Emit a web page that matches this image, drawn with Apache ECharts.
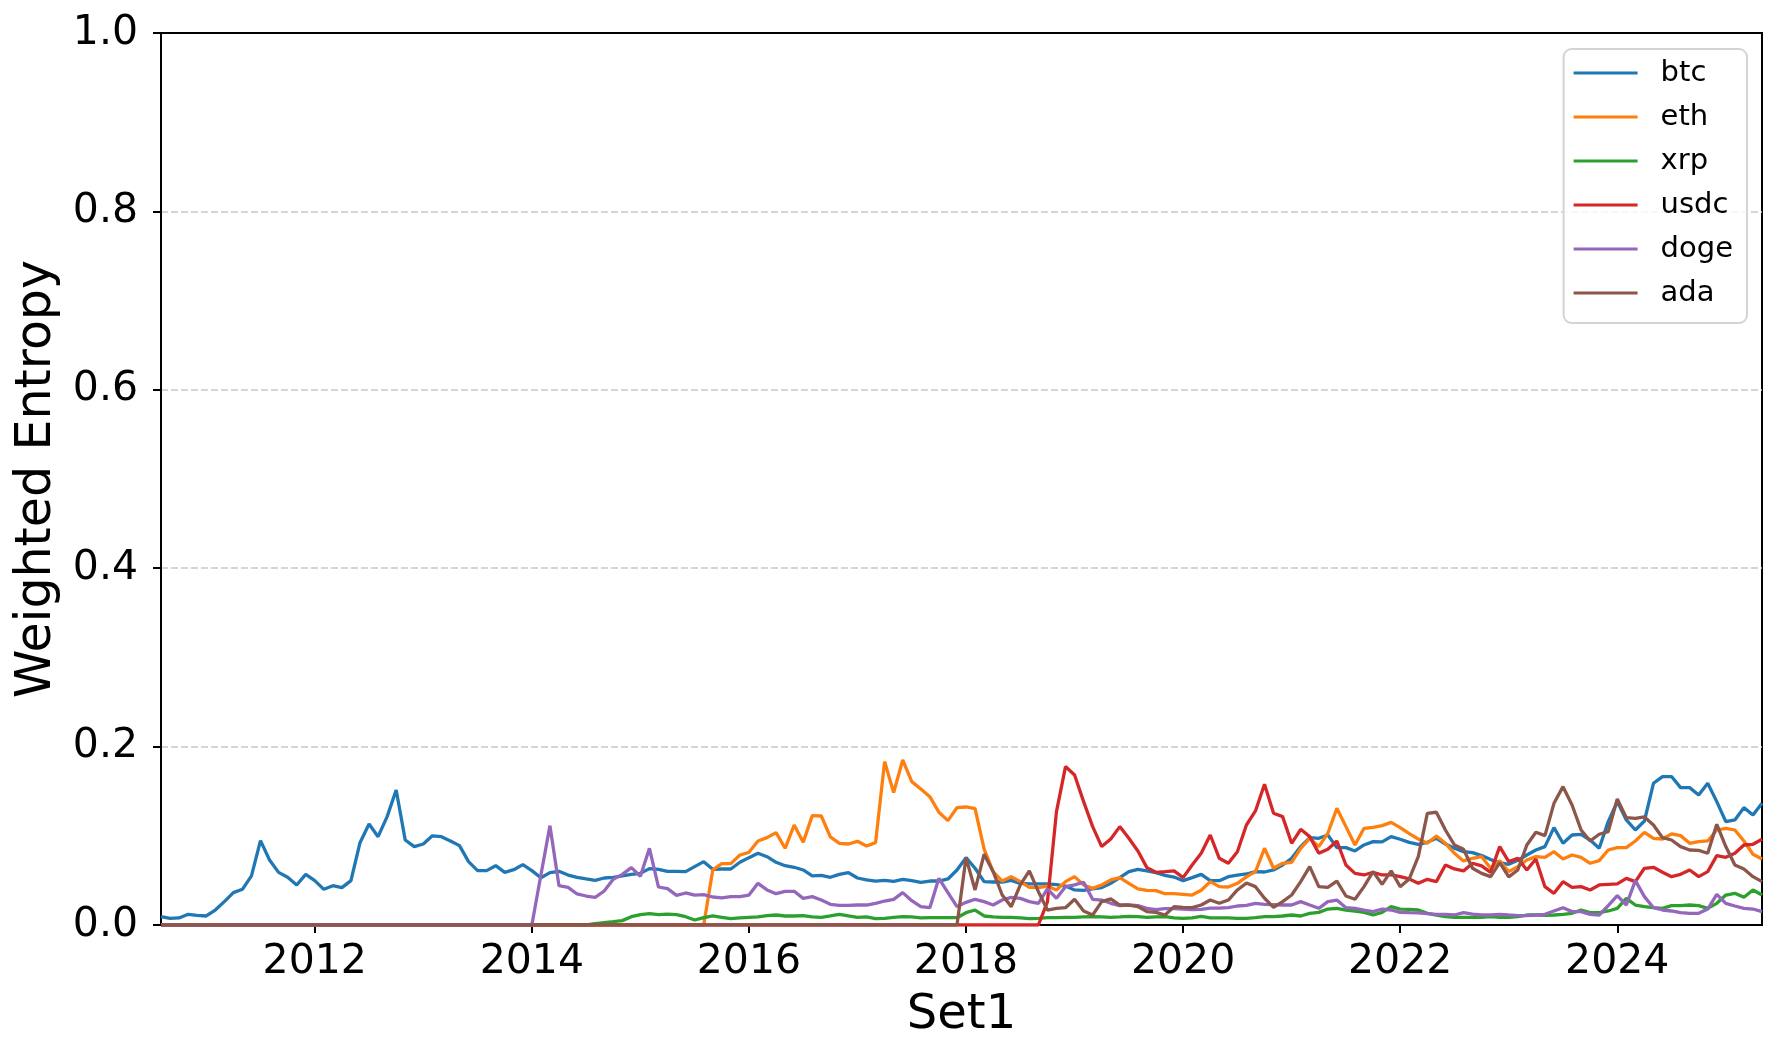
<!DOCTYPE html>
<html>
<head>
<meta charset="utf-8">
<script src="https://cdn.jsdelivr.net/npm/echarts@6/dist/echarts.min.js"></script>
<style>
html,body{margin:0;padding:0;background:#fff;}
#chart{width:1781px;height:1060px;}
</style>
</head>
<body>
<div id="chart"></div>
<script>
// Monthly observations, 2010-08 .. 2025-05 (178 months)
const startYear = 2010, startMonth = 8, nMonths = 178;
const months = [];
for (let k = 0; k < nMonths; k++) {
  const m = startMonth - 1 + k;
  months.push((startYear + Math.floor(m / 12)) + '-' + String(m % 12 + 1).padStart(2, '0'));
}

const seriesNames = ['btc', 'eth', 'xrp', 'usdc', 'doge', 'ada'];
const seriesColors = ['#1f77b4', '#ff7f0e', '#2ca02c', '#d62728', '#9467bd', '#8c564b'];
const yTicks = [0, 0.2, 0.4, 0.6, 0.8, 1.0];

const btc = [
0.0093,0.0075,0.0079,0.0120,0.0108,0.0101,0.0168,0.0262,0.0363,0.0400,
0.0550,0.0946,0.0729,0.0590,0.0535,0.0449,0.0568,0.0497,0.0400,0.0441,
0.0419,0.0497,0.0923,0.1133,0.0990,0.1215,0.1514,0.0953,0.0879,0.0908,
0.1000,0.0990,0.0942,0.0890,0.0710,0.0610,0.0610,0.0665,0.0590,0.0620,
0.0677,0.0610,0.0530,0.0587,0.0602,0.0560,0.0535,0.0516,0.0500,0.0527,
0.0535,0.0550,0.0568,0.0580,0.0632,0.0624,0.0602,0.0602,0.0598,0.0654,
0.0710,0.0624,0.0628,0.0628,0.0703,0.0755,0.0804,0.0766,0.0703,0.0665,
0.0647,0.0617,0.0550,0.0557,0.0535,0.0568,0.0587,0.0527,0.0505,0.0493,
0.0501,0.0490,0.0512,0.0497,0.0479,0.0493,0.0493,0.0516,0.0617,0.0755,
0.0636,0.0486,0.0482,0.0482,0.0501,0.0467,0.0460,0.0460,0.0460,0.0452,
0.0437,0.0393,0.0389,0.0404,0.0419,0.0467,0.0531,0.0598,0.0624,0.0606,
0.0587,0.0557,0.0538,0.0497,0.0531,0.0568,0.0497,0.0497,0.0542,0.0560,
0.0572,0.0598,0.0594,0.0617,0.0673,0.0748,0.0879,0.0979,0.0972,0.1009,
0.0867,0.0867,0.0830,0.0897,0.0935,0.0931,0.0991,0.0961,0.0927,0.0905,
0.0927,0.0972,0.0908,0.0860,0.0822,0.0811,0.0778,0.0733,0.0700,0.0680,
0.0725,0.0785,0.0841,0.0879,0.1092,0.0916,0.1009,0.1017,0.0953,0.0860,
0.1159,0.1383,0.1178,0.1065,0.1166,0.1589,0.1664,0.1664,0.1540,0.1540,
0.1458,0.1589,0.1383,0.1159,0.1178,0.1316,0.1234,0.1364
];

const eth = [
0,0,0,0,0,0,0,0,0,0,
0,0,0,0,0,0,0,0,0,0,
0,0,0,0,0,0,0,0,0,0,
0,0,0,0,0,0,0,0,0,0,
0,0,0,0,0,0,0,0,0,0,
0,0,0,0,0,0,0,0,0,0,
0,0.0617,0.0688,0.0688,0.0785,0.0815,0.0942,0.0980,0.1036,0.0860,
0.1121,0.0927,0.1226,0.1222,0.0987,0.0916,0.0908,0.0938,0.0886,0.0923,
0.1832,0.1484,0.1850,0.1607,0.1525,0.1439,0.1264,0.1170,0.1316,0.1323,
0.1305,0.0850,0.0598,0.0493,0.0542,0.0486,0.0422,0.0419,0.0437,0.0393,
0.0486,0.0542,0.0449,0.0411,0.0449,0.0505,0.0531,0.0467,0.0404,0.0389,
0.0385,0.0351,0.0351,0.0344,0.0336,0.0389,0.0486,0.0430,0.0426,0.0467,
0.0540,0.0598,0.0860,0.0636,0.0692,0.0703,0.0860,0.0972,0.0879,0.1028,
0.1308,0.1103,0.0897,0.1084,0.1095,0.1114,0.1151,0.1092,0.1024,0.0964,
0.0916,0.0998,0.0916,0.0804,0.0718,0.0748,0.0766,0.0636,0.0720,0.0598,
0.0654,0.0729,0.0766,0.0759,0.0822,0.0740,0.0785,0.0759,0.0692,0.0721,
0.0841,0.0867,0.0867,0.0942,0.1039,0.0972,0.0964,0.1021,0.1002,0.0916,
0.0935,0.0942,0.1065,0.1084,0.1065,0.0942,0.0793,0.0740
];

const xrp = [
0,0,0,0,0,0,0,0,0,0,
0,0,0,0,0,0,0,0,0,0,
0,0,0,0,0,0,0,0,0,0,
0,0,0,0,0,0,0,0,0,0,
0,0,0,0,0,0,0,0,0.0015,0.0026,
0.0037,0.0049,0.0093,0.0116,0.0127,0.0116,0.0123,0.0116,0.0093,0.0056,
0.0082,0.0101,0.0086,0.0071,0.0079,0.0086,0.0090,0.0105,0.0112,0.0101,
0.0101,0.0105,0.0090,0.0086,0.0101,0.0120,0.0101,0.0086,0.0090,0.0071,
0.0075,0.0086,0.0093,0.0090,0.0079,0.0082,0.0082,0.0082,0.0082,0.0138,
0.0168,0.0101,0.0090,0.0086,0.0086,0.0079,0.0071,0.0075,0.0082,0.0082,
0.0086,0.0086,0.0090,0.0093,0.0090,0.0086,0.0090,0.0097,0.0093,0.0086,
0.0090,0.0093,0.0079,0.0075,0.0079,0.0097,0.0079,0.0079,0.0079,0.0075,
0.0075,0.0082,0.0093,0.0093,0.0101,0.0112,0.0101,0.0131,0.0142,0.0179,
0.0187,0.0168,0.0157,0.0142,0.0112,0.0142,0.0206,0.0179,0.0176,0.0168,
0.0131,0.0112,0.0093,0.0086,0.0086,0.0086,0.0086,0.0093,0.0086,0.0086,
0.0093,0.0112,0.0112,0.0108,0.0112,0.0120,0.0131,0.0168,0.0138,0.0138,
0.0157,0.0187,0.0299,0.0224,0.0206,0.0194,0.0187,0.0217,0.0217,0.0224,
0.0217,0.0187,0.0243,0.0336,0.0355,0.0310,0.0393,0.0336
];

const usdc = [
0,0,0,0,0,0,0,0,0,0,
0,0,0,0,0,0,0,0,0,0,
0,0,0,0,0,0,0,0,0,0,
0,0,0,0,0,0,0,0,0,0,
0,0,0,0,0,0,0,0,0,0,
0,0,0,0,0,0,0,0,0,0,
0,0,0,0,0,0,0,0,0,0,
0,0,0,0,0,0,0,0,0,0,
0,0,0,0,0,0,0,0,0,0,
0,0,0,0,0,0,0,0,0.0260,0.1271,
0.1776,0.1682,0.1383,0.1103,0.0879,0.0964,0.1103,0.0972,0.0830,0.0643,
0.0591,0.0598,0.0606,0.0531,0.0673,0.0804,0.1009,0.0748,0.0692,0.0822,
0.1121,0.1279,0.1578,0.1252,0.1215,0.0916,0.1073,0.0991,0.0804,0.0849,
0.0942,0.0673,0.0579,0.0561,0.0591,0.0561,0.0561,0.0542,0.0516,0.0467,
0.0512,0.0486,0.0673,0.0628,0.0606,0.0692,0.0662,0.0591,0.0879,0.0710,
0.0748,0.0617,0.0740,0.0430,0.0355,0.0486,0.0422,0.0430,0.0393,0.0449,
0.0456,0.0460,0.0523,0.0486,0.0636,0.0647,0.0591,0.0542,0.0568,0.0617,
0.0542,0.0598,0.0778,0.0759,0.0804,0.0897,0.0905,0.0961
];

const doge = [
0,0,0,0,0,0,0,0,0,0,
0,0,0,0,0,0,0,0,0,0,
0,0,0,0,0,0,0,0,0,0,
0,0,0,0,0,0,0,0,0,0,
0,0,0.0560,0.1114,0.0441,0.0422,0.0348,0.0325,0.0310,0.0381,
0.0512,0.0568,0.0643,0.0546,0.0860,0.0426,0.0407,0.0333,0.0359,0.0336,
0.0340,0.0314,0.0303,0.0318,0.0318,0.0336,0.0467,0.0393,0.0351,0.0378,
0.0378,0.0299,0.0318,0.0280,0.0232,0.0221,0.0221,0.0224,0.0224,0.0243,
0.0269,0.0288,0.0363,0.0273,0.0206,0.0194,0.0523,0.0363,0.0206,0.0254,
0.0288,0.0262,0.0224,0.0280,0.0310,0.0299,0.0262,0.0243,0.0404,0.0299,
0.0430,0.0449,0.0479,0.0288,0.0280,0.0243,0.0217,0.0224,0.0217,0.0187,
0.0172,0.0183,0.0183,0.0179,0.0172,0.0176,0.0190,0.0190,0.0194,0.0213,
0.0220,0.0243,0.0232,0.0228,0.0224,0.0224,0.0262,0.0224,0.0187,0.0262,
0.0280,0.0194,0.0187,0.0168,0.0150,0.0179,0.0168,0.0142,0.0138,0.0135,
0.0127,0.0120,0.0120,0.0112,0.0138,0.0123,0.0112,0.0112,0.0120,0.0112,
0.0105,0.0105,0.0112,0.0120,0.0157,0.0194,0.0150,0.0150,0.0120,0.0112,
0.0217,0.0329,0.0224,0.0497,0.0318,0.0194,0.0168,0.0157,0.0138,0.0131,
0.0131,0.0179,0.0344,0.0243,0.0213,0.0187,0.0179,0.0150
];

const ada = [
0,0,0,0,0,0,0,0,0,0,
0,0,0,0,0,0,0,0,0,0,
0,0,0,0,0,0,0,0,0,0,
0,0,0,0,0,0,0,0,0,0,
0,0,0,0,0,0,0,0,0,0,
0,0,0,0,0,0,0,0,0,0,
0,0,0,0,0,0,0,0,0,0,
0,0,0,0,0,0,0,0,0,0,
0,0,0,0,0,0,0,0,0,0.0755,
0.0393,0.0793,0.0598,0.0336,0.0206,0.0449,0.0606,0.0374,0.0168,0.0187,
0.0194,0.0288,0.0157,0.0112,0.0262,0.0292,0.0224,0.0224,0.0206,0.0150,
0.0142,0.0112,0.0206,0.0198,0.0194,0.0224,0.0280,0.0243,0.0280,0.0393,
0.0470,0.0430,0.0300,0.0198,0.0262,0.0336,0.0486,0.0654,0.0430,0.0422,
0.0493,0.0325,0.0288,0.0430,0.0598,0.0456,0.0606,0.0430,0.0516,0.0766,
0.1252,0.1264,0.1065,0.0897,0.0849,0.0636,0.0579,0.0542,0.0700,0.0540,
0.0617,0.0897,0.1039,0.1002,0.1364,0.1551,0.1346,0.1065,0.0942,0.1017,
0.1047,0.1413,0.1204,0.1196,0.1211,0.1121,0.0979,0.0953,0.0879,0.0841,
0.0837,0.0804,0.1129,0.0879,0.0673,0.0628,0.0542,0.0486
];

const seriesData = [btc, eth, xrp, usdc, doge, ada];
const FONT = 'DejaVu Sans';

function isYearTick(index, value) {
  return value.slice(5) === '01' && (+value.slice(0, 4)) % 2 === 0;
}

const chart = echarts.init(document.getElementById('chart'), null, {renderer: 'canvas'});
chart.setOption({
  animation: false,
  backgroundColor: '#ffffff',
  textStyle: {fontFamily: FONT},
  grid: {
    left: 161, right: 19, top: 33, bottom: 135,
    containLabel: false,
    show: true, borderColor: '#000', borderWidth: 2, backgroundColor: 'transparent'
  },
  legend: {
    orient: 'vertical',
    right: 34, top: 49,
    icon: 'rect',
    itemWidth: 64, itemHeight: 3, itemGap: 14,
    itemStyle: {borderWidth: 0},
    padding: [9, 14, 15, 10],
    backgroundColor: 'rgba(255,255,255,0.8)',
    borderColor: '#d4d4d4', borderWidth: 2, borderRadius: 8,
    textStyle: {fontFamily: FONT, fontSize: 29, lineHeight: 30, color: '#000', padding: [0, 0, 0, 18]},
    data: seriesNames
  },
  xAxis: {
    type: 'category',
    data: months,
    boundaryGap: false,
    z: 3,
    name: 'Set1',
    nameLocation: 'middle',
    nameGap: 67,
    nameTextStyle: {fontFamily: FONT, fontSize: 48, color: '#000'},
    axisLine: {show: true, lineStyle: {color: '#000', width: 2}},
    axisTick: {show: true, interval: isYearTick, length: 8, lineStyle: {color: '#000', width: 2}},
    axisLabel: {
      interval: isYearTick,
      formatter: v => v.slice(0, 4),
      fontFamily: FONT, fontSize: 41, color: '#000', margin: 17
    },
    splitLine: {show: false}
  },
  yAxis: {
    type: 'value',
    min: yTicks[0], max: yTicks[yTicks.length - 1], interval: 0.2,
    name: 'Weighted Entropy',
    nameLocation: 'middle',
    nameGap: 86,
    nameTextStyle: {fontFamily: FONT, fontSize: 49, color: '#000'},
    axisLine: {show: true, lineStyle: {color: '#000', width: 2}},
    axisTick: {show: true, length: 8, lineStyle: {color: '#000', width: 2}},
    axisLabel: {formatter: v => v.toFixed(1), fontFamily: FONT, fontSize: 41, color: '#000', margin: 23},
    splitLine: {
      show: true, showMinLine: false, showMaxLine: false,
      lineStyle: {type: [7, 3], color: '#c8c8c8', width: 1.5}
    }
  },
  series: seriesNames.map((name, i) => ({
    name: name,
    type: 'line',
    data: seriesData[i],
    symbol: 'none',
    showSymbol: false,
    color: seriesColors[i],
    lineStyle: {color: seriesColors[i], width: 3.3},
    itemStyle: {color: seriesColors[i]},
    emphasis: {disabled: true}
  }))
});
</script>
</body>
</html>
